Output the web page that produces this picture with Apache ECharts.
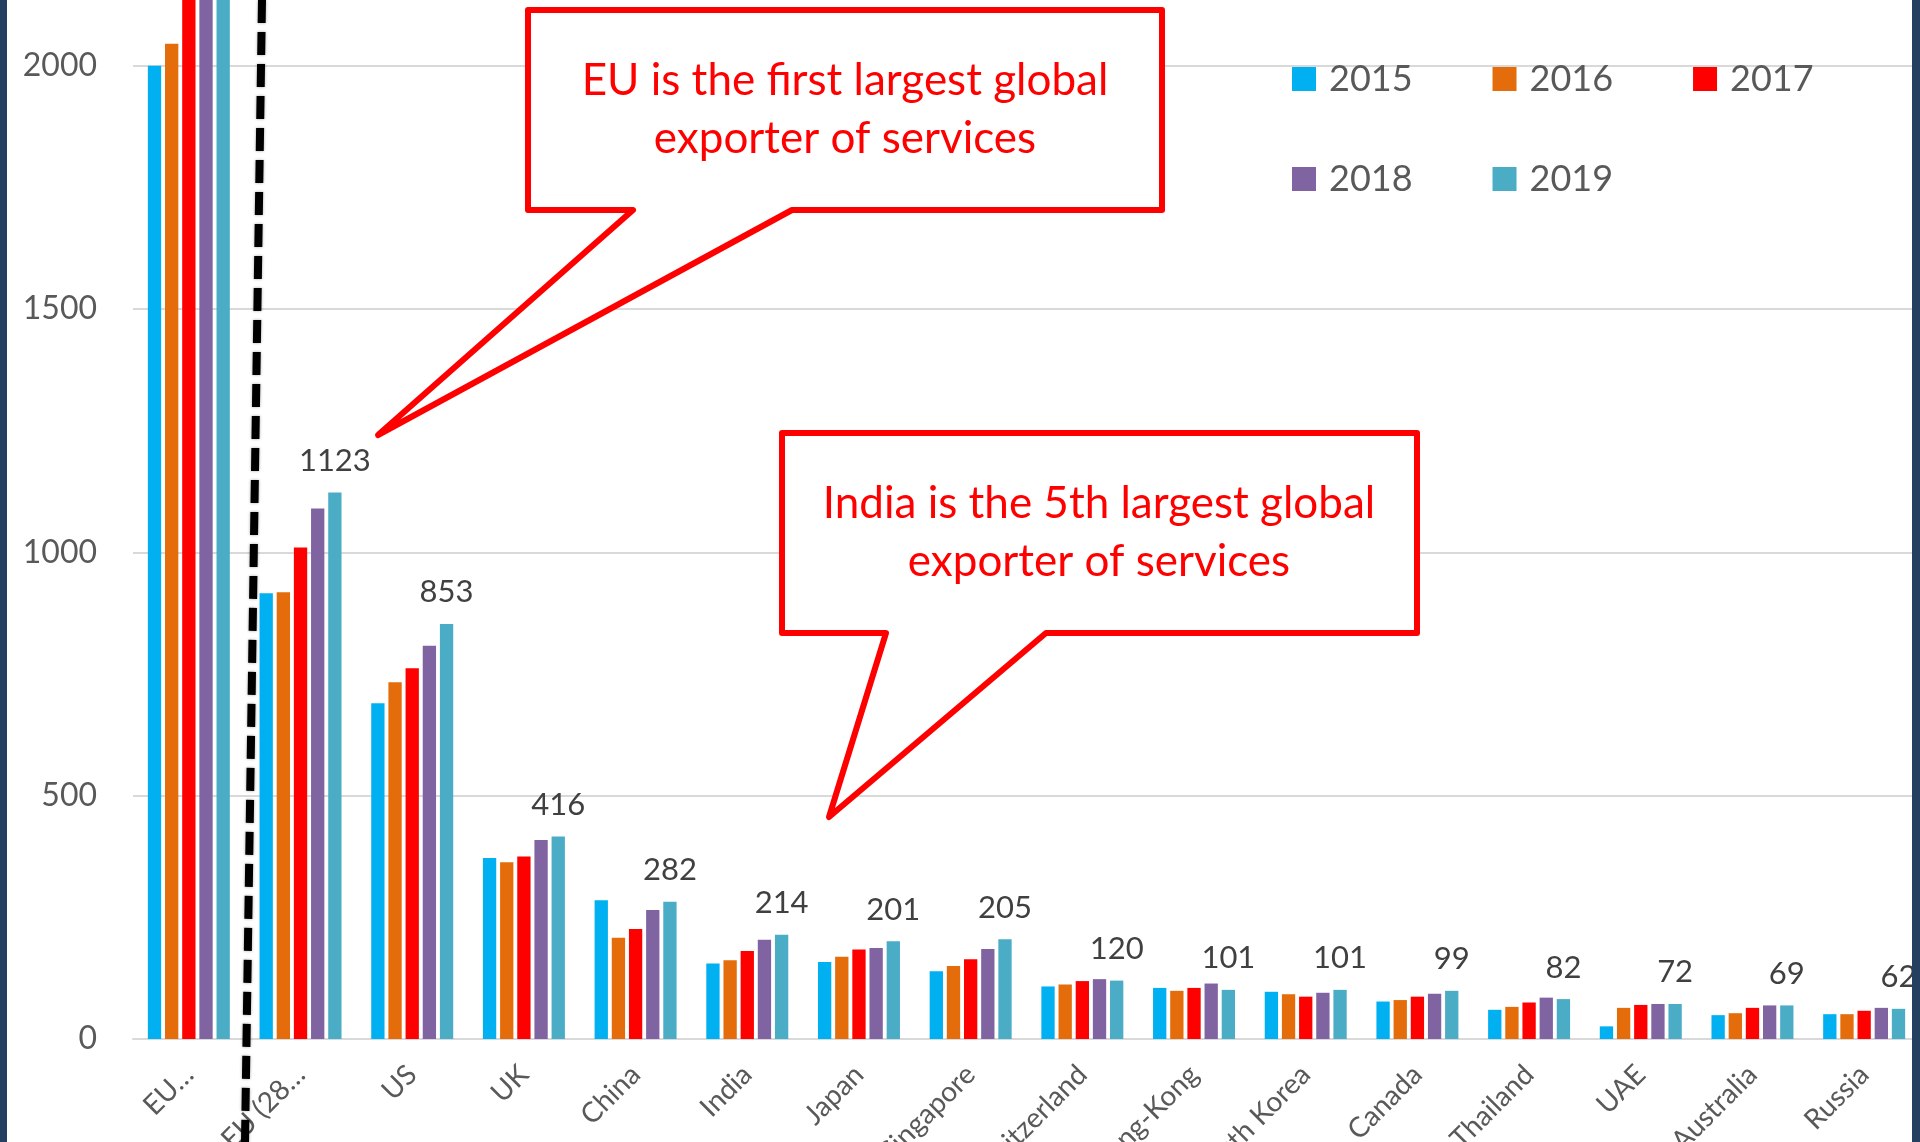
<!DOCTYPE html>
<html>
<head>
<meta charset="utf-8">
<title>Exports of services</title>
<script src="https://cdn.jsdelivr.net/npm/echarts@6/dist/echarts.min.js"></script>
<style>
  html, body { margin: 0; padding: 0; background: #ffffff; }
  #chart { width: 1920px; height: 1142px; }
</style>
</head>
<body>
<div id="chart"></div>
<script>
// categories and yearly values
const countries = [
  'EU…', 'Outside EU (28…', 'US', 'UK', 'China', 'India', 'Japan', 'Singapore',
  'Switzerland', 'Hong-Kong', 'South Korea', 'Canada', 'Thailand', 'UAE', 'Australia', 'Russia'
]
const years = ['2015', '2016', '2017', '2018', '2019']
const v2015 = [2000, 916, 690, 372, 285, 155, 158, 139, 108, 105, 97, 77, 60, 26, 49, 51]
const v2016 = [2045, 918, 733, 363, 208, 162, 169, 150, 112, 99, 92, 80, 66, 64, 53, 51]
const v2017 = [2180, 1010, 762, 375, 226, 181, 184, 164, 119, 105, 87, 87, 75, 70, 64, 58]
const v2018 = [2280, 1090, 808, 409, 265, 204, 187, 185, 123, 114, 95, 93, 85, 72, 69, 64]
const v2019 = [2350, 1123, 853, 416, 282, 214, 201, 205, 120, 101, 101, 99, 82, 72, 69, 62]
// the picture is cropped just above 2000, so the visible top is ~2135
const yTicks = { min: 0, max: 2135, interval: 500 }

const colors = ['#00B0F0', '#E46C0A', '#FF0000', '#8064A2', '#4BACC6']
const FONT = 'Lato, "Open Sans", sans-serif'

const chart = echarts.init(document.getElementById('chart'))

const allValues = [v2015, v2016, v2017, v2018, v2019]
const series = years.map((y, i) => ({
  name: y,
  type: 'bar',
  data: allValues[i],
  barGap: '29%',
  barCategoryGap: '26.6%',
  clip: true,
  itemStyle: { color: colors[i] },
  label: i === 4 ? {
    show: true,
    position: 'top',
    distance: 16,
    color: '#404040',
    fontFamily: FONT,
    fontSize: 31,
    // value above the cropped top is not visible
    formatter: p => (p.value > yTicks.max ? '' : p.value)
  } : { show: false },
  animation: false
}))

// callout bubbles (annotation shapes)
function callout(pts, lines, cx, cy) {
  return [
    {
      type: 'polygon',
      z: 50,
      shape: { points: pts },
      style: { fill: '#ffffff', stroke: '#FF0000', lineWidth: 6, lineJoin: 'round' }
    },
    {
      type: 'text',
      z: 51,
      x: cx,
      y: cy,
      style: {
        text: lines.join('\n'),
        fill: '#FF0000',
        font: '44px ' + FONT,
        align: 'center',
        textAlign: 'center',
        verticalAlign: 'middle',
        textVerticalAlign: 'middle',
        lineHeight: 58
      }
    }
  ]
}

const graphics = [].concat(
  callout(
    [[528, 10], [1162, 10], [1162, 210], [792, 210], [378, 435], [633, 210], [528, 210]],
    ['EU is the first largest global', 'exporter of services'],
    845, 110
  ),
  callout(
    [[782, 433], [1417, 433], [1417, 633], [1046, 633], [829, 817], [886, 633], [782, 633]],
    ['India is the 5th largest global', 'exporter of services'],
    1099, 533
  ),
  [
    {
      // dashed separator
      type: 'line',
      z: 60,
      shape: { x1: 262, y1: 0, x2: 245, y2: 1142 },
      style: {
        stroke: '#000000', lineWidth: 8, lineDash: [23, 9],
        shadowBlur: 3, shadowColor: 'rgba(0,0,0,0.35)'
      }
    },
    { type: 'rect', z: 70, shape: { x: 0, y: 0, width: 7, height: 1142 }, style: { fill: '#243F60' } },
    { type: 'rect', z: 70, shape: { x: 1912, y: 0, width: 8, height: 1142 }, style: { fill: '#243F60' } }
  ]
)

const legendCommon = {
  left: 1292,
  orient: 'horizontal',
  padding: 0,
  itemWidth: 24,
  itemHeight: 24,
  itemGap: 80,
  icon: 'rect',
  selectedMode: false,
  textStyle: {
    color: '#595959',
    fontFamily: FONT,
    fontSize: 36,
    lineHeight: 40,
    padding: [0, 0, 0, 8]
  }
}

const option = {
  backgroundColor: '#ffffff',
  animation: false,
  color: colors,
  legend: [
    Object.assign({}, legendCommon, { top: 59, data: years.slice(0, 3) }),
    Object.assign({}, legendCommon, { top: 159, data: years.slice(3) })
  ],
  grid: {
    left: 133,
    right: 0,
    top: 0,
    bottom: 103,
    containLabel: false,
    outerBoundsMode: 'none'
  },
  xAxis: {
    type: 'category',
    data: countries,
    axisLine: { lineStyle: { color: '#D9D9D9', width: 2 } },
    axisTick: { show: false },
    axisLabel: {
      interval: 0,
      rotate: 45,
      margin: 31,
      color: '#595959',
      fontFamily: FONT,
      fontSize: 28
    }
  },
  yAxis: {
    type: 'value',
    min: yTicks.min,
    max: yTicks.max,
    interval: yTicks.interval,
    axisLine: { show: false },
    axisTick: { show: false },
    axisLabel: {
      margin: 36,
      color: '#595959',
      fontFamily: FONT,
      fontSize: 32,
      showMaxLabel: false,
      formatter: v => (v % yTicks.interval === 0 ? String(v) : '')
    },
    splitLine: { showMaxLine: false, lineStyle: { color: '#D9D9D9', width: 2 } }
  },
  series: series,
  graphic: graphics
}

chart.setOption(option)
</script>
</body>
</html>
